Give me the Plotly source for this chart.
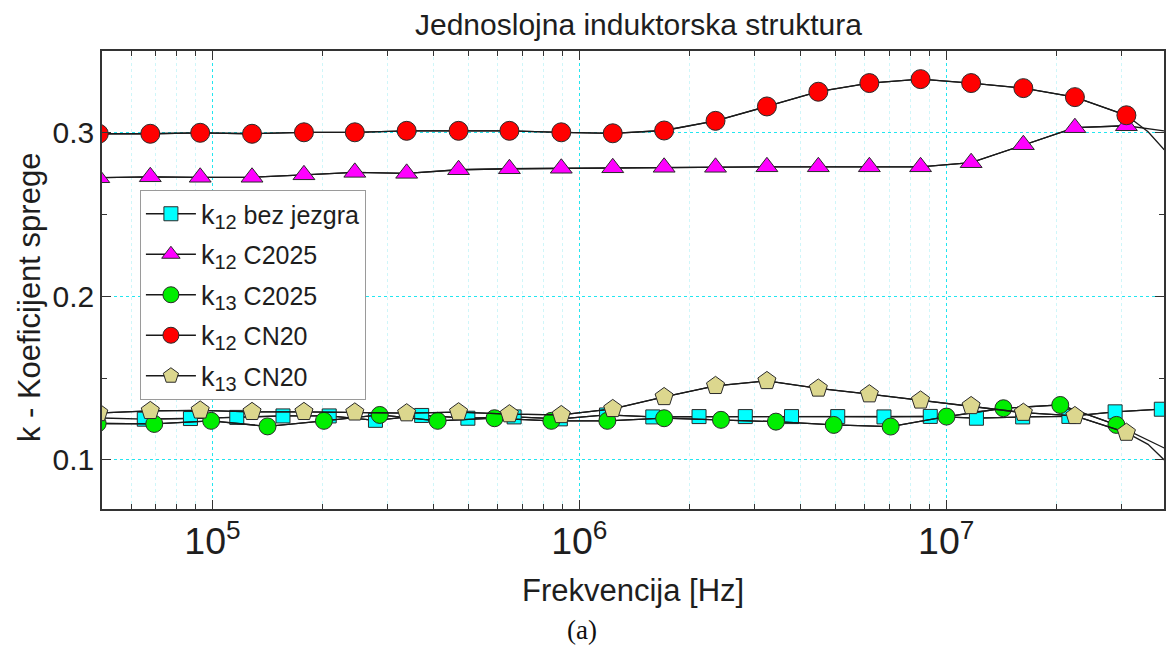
import math
import plotly.graph_objects as go

# Sweep frequencies (Hz) of the plotted points for k12 C2025, k12 CN20 and k13 CN20
f_main = [4.9e4, 6.77e4, 9.26e4, 1.282e5, 1.776e5, 2.444e5, 3.384e5, 4.687e5,
          6.449e5, 8.93e5, 1.2335e6, 1.703e6, 2.351e6, 3.246e6, 4.482e6,
          6.174e6, 8.514e6, 1.1695e7, 1.623e7, 2.243e7, 3.099e7]

# k12 without core
f_bez = [6.52e4, 8.71e4, 1.165e5, 1.557e5, 2.081e5, 2.782e5, 3.718e5, 4.969e5,
         6.643e5, 8.878e5, 1.1865e6, 1.586e6, 2.120e6, 2.834e6, 3.788e6,
         5.063e6, 6.767e6, 9.05e6, 1.209e7, 1.616e7, 2.160e7, 2.887e7, 3.858e7]
k_bez = [0.1249, 0.1253, 0.1260, 0.1269, 0.1269, 0.1242, 0.1272, 0.1255,
         0.1263, 0.1251, 0.1275, 0.1263, 0.1265, 0.1265, 0.1265, 0.1265,
         0.1263, 0.1266, 0.1255, 0.1263, 0.1266, 0.1294, 0.1310]
f_bez_head = [4.9e4]
k_bez_head = [0.1257]

# k12 with C2025 core
k12_c2025 = [0.2725, 0.2731, 0.2728, 0.2728, 0.2743, 0.2758, 0.2752, 0.2774,
             0.2780, 0.2783, 0.2786, 0.2789, 0.2789, 0.2792, 0.2792, 0.2792,
             0.2792, 0.2817, 0.2927, 0.3031, 0.3043]
f_k12_c2025_tail = [3.93e7]
k12_c2025_tail = [0.3012]

# k13 with C2025 core
f_k13_c2025 = [4.866e4, 6.94e4, 9.92e4, 1.413e5, 2.013e5, 2.858e5, 4.110e5,
               5.873e5, 8.391e5, 1.192e6, 1.703e6, 2.433e6, 3.435e6, 4.938e6,
               7.056e6, 1.002e7, 1.432e7, 2.046e7, 2.911e7]
k13_c2025 = [0.1223, 0.1220, 0.1239, 0.1205, 0.1239, 0.1275, 0.1239, 0.1255,
             0.1239, 0.1239, 0.1255, 0.1245, 0.1234, 0.1214, 0.1204, 0.1265,
             0.1316, 0.1336, 0.1214]
f_k13_c2025_tail = [3.93e7]
k13_c2025_tail = [0.1073]

# k12 with CN20 core
k12_cn20 = [0.2994, 0.2994, 0.3000, 0.2994, 0.3003, 0.3003, 0.3012, 0.3012,
            0.3012, 0.3003, 0.2997, 0.3014, 0.3073, 0.3161, 0.3251, 0.3304,
            0.3328, 0.3304, 0.3273, 0.3218, 0.3107]
f_k12_cn20_tail = [3.55e7, 3.93e7]
k12_cn20_tail = [0.3006, 0.2896]

# k13 with CN20 core
k13_cn20 = [0.1287, 0.1300, 0.1303, 0.1294, 0.1294, 0.1291, 0.1286, 0.1292,
            0.1280, 0.1275, 0.1312, 0.1385, 0.1453, 0.1483, 0.1437, 0.1402,
            0.1364, 0.1330, 0.1289, 0.1269, 0.1167]
f_k13_cn20_tail = [3.55e7, 3.93e7]
k13_cn20_tail = [0.1095, 0.1000]


def label(sub, rest):
    return ('<span style="font-size:27px">k</span>'
            f'<sub><span style="font-size:20px">{sub}</span></sub> {rest}')


series = [
    (label("12", "bez jezgra"), f_bez, k_bez, f_bez_head, k_bez_head,
     "square", "#00FFFF", 14),
    (label("12", "C2025"), f_main, k12_c2025, f_k12_c2025_tail, k12_c2025_tail,
     "triangle-up", "#FF00FF", 19),
    (label("13", "C2025"), f_k13_c2025, k13_c2025, f_k13_c2025_tail, k13_c2025_tail,
     "circle", "#00EE00", 17),
    (label("12", "CN20"), f_main, k12_cn20, f_k12_cn20_tail, k12_cn20_tail,
     "circle", "#FF0000", 19),
    (label("13", "CN20"), f_main, k13_cn20, f_k13_cn20_tail, k13_cn20_tail,
     "pentagon", "#DCD78E", 19),
]

LINE = "#1a1a1a"
AXIS = "#333333"
TEXT = "#1e1e1e"
SANS = "Liberation Sans, Arial, sans-serif"

fig = go.Figure()
for i, (name, fx, ky, fx_extra, ky_extra, sym, col, size) in enumerate(series):
    pts = sorted(zip(list(fx) + list(fx_extra), list(ky) + list(ky_extra)))
    fig.add_trace(go.Scatter(
        x=[p[0] for p in pts], y=[p[1] for p in pts], mode="lines",
        line=dict(color=LINE, width=1.3), showlegend=False,
        legendgroup=f"g{i}", hoverinfo="skip"))
    fig.add_trace(go.Scatter(
        x=fx, y=ky, mode="lines+markers", name=name, legendgroup=f"g{i}",
        line=dict(color=LINE, width=1.3),
        marker=dict(symbol=sym, size=size, color=col,
                    line=dict(color="#2a2a2a", width=1))))

grid_major = "#22E6F0"
grid_minor = "#CFF6F9"

fig.update_xaxes(
    type="log", range=[math.log10(5e4), 7.5937], dtick=1,
    exponentformat="power", showline=True, linecolor=AXIS, linewidth=1.5,
    mirror="ticks", ticks="inside", ticklen=9, tickwidth=1.3, tickcolor=AXIS,
    tickfont=dict(family=SANS, size=30, color=TEXT),
    showgrid=True, gridcolor=grid_major, griddash="dot", gridwidth=1,
    zeroline=False,
    minor=dict(dtick="D1", ticks="inside", ticklen=5, tickwidth=1.2,
               tickcolor=AXIS, showgrid=True, gridcolor=grid_minor,
               griddash="dot", gridwidth=1),
)
fig.update_yaxes(
    range=[0.07, 0.35], tick0=0, dtick=0.1, tickformat=".1f",
    showline=True, linecolor=AXIS, linewidth=1.5, mirror="ticks",
    ticks="inside", ticklen=9, tickwidth=1.3, tickcolor=AXIS,
    tickfont=dict(family=SANS, size=30, color=TEXT),
    showgrid=True, gridcolor=grid_major, griddash="dot", gridwidth=1,
    zeroline=False,
    minor=dict(tick0=0, dtick=0.05, ticks="inside", ticklen=5, tickwidth=1.2,
               tickcolor=AXIS, showgrid=False),
)

annotations = [
    dict(text="Jednoslojna induktorska struktura", x=0.5056, y=1.0568,
         xref="paper", yref="paper", xanchor="center", yanchor="middle",
         showarrow=False, font=dict(family=SANS, size=30, color=TEXT)),
    dict(text="Frekvencija [Hz]", x=0.5, y=-0.1769, xref="paper", yref="paper",
         xanchor="center", yanchor="middle", showarrow=False,
         font=dict(family=SANS, size=31, color=TEXT)),
    dict(text="k - Koeficijent sprege", x=-0.0677, y=0.4607, xref="paper",
         yref="paper", xanchor="center", yanchor="middle", textangle=-90,
         showarrow=False, font=dict(family=SANS, size=31, color=TEXT)),
    dict(text="(a)", x=0.452, y=-0.2642, xref="paper", yref="paper",
         xanchor="center", yanchor="middle", showarrow=False,
         font=dict(family="Liberation Serif, Times New Roman, serif", size=27,
                   color="#111111")),
]

fig.update_layout(
    width=1166, height=646,
    margin=dict(l=102, r=0, t=51, b=137),
    paper_bgcolor="white", plot_bgcolor="white",
    annotations=annotations,
    legend=dict(x=0.0357, y=0.6965, xanchor="left", yanchor="top",
                bgcolor="white", bordercolor="#9a9a9a", borderwidth=1,
                font=dict(family=SANS, size=25, color=TEXT),
                tracegroupgap=5, itemwidth=50),
    showlegend=True,
)

fig.write_html("out.html")
